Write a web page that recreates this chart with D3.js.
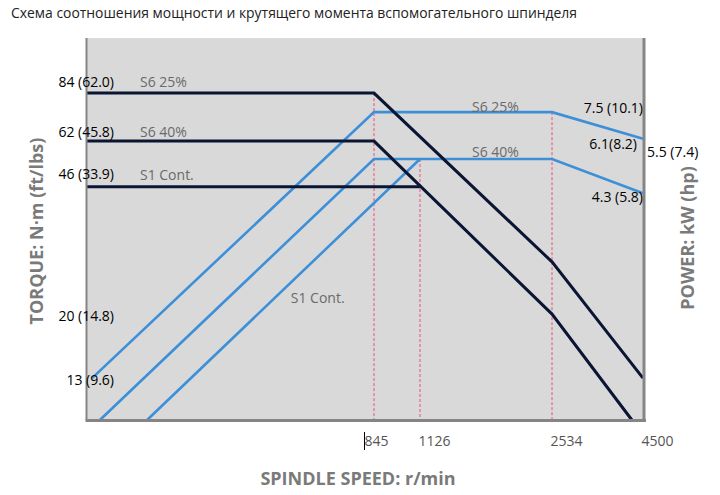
<!DOCTYPE html>
<html>
<head>
<meta charset="utf-8">
<script src="https://cdn.jsdelivr.net/npm/d3@7/dist/d3.min.js"></script>
<style>
  body { margin: 0; background: #fff; }
  svg { display: block; }
  .lbl { font-family: "Open Sans", "Noto Sans", sans-serif; }
</style>
</head>
<body>
<div id="chart"></div>
<script>
// Spindle speed breakpoints (r/min) — the axis is schematic, not linear
var speedTicks = [845, 1126, 2534, 4500];

// Schematic height levels (0 = bottom of plot, 100 = top)
// Torque curves: [speed, level]
var torqueS625 = [[0, 85.8], [845, 85.8], [2534, 41.5], [4500, 11.0]];
var torqueS640 = [[0, 73.2], [845, 73.2], [2534, 27.8], [4260, 0]];
var torqueS1   = [[0, 61.2], [1126, 61.2]];

// Power curves: [speed, level]
var powerS625 = [[15, 11.0], [845, 80.8], [2534, 80.8], [4500, 73.8]];
var powerS640 = [[38, 0], [845, 68.5], [2534, 68.5], [4500, 59.5]];
var powerS1   = [[177, 0], [1126, 68.5]];

// Red guide lines: [speed, top level]
var guides = [[845, 85.8], [1126, 68.5], [2534, 80.8]];

// Torque labels N·m (ft/lbs), left side
var torqueLabels = ["84 (62.0)", "62 (45.8)", "46 (33.9)", "20 (14.8)", "13 (9.6)"];
var torqueLabelLevels = [88.7, 75.6, 64.6, 27.3, 10.5];

// Power labels kW (hp), right side
var powerLabels = ["7.5 (10.1)", "6.1(8.2)", "5.5 (7.4)", "4.3 (5.8)"];
var powerLabelLevels = [81.9, 72.4, 70.3, 58.5];
var powerLabelInside = [true, true, false, true];

// Curve names inside the plot
var seriesNames = ["S6 25%", "S6 40%", "S1 Cont.", "S6 25%", "S6 40%", "S1 Cont."];
var seriesSpeeds = [156, 156, 156, 1681, 1681, 600];
var seriesLevels = [88.7, 75.6, 64.3, 82.2, 70.3, 32.0];

var W = 720, H = 495;
var plot = {left: 87, right: 643, top: 38, bottom: 420};

var x = d3.scaleLinear()
  .domain([0].concat(speedTicks))
  .range([plot.left, 374, 420, 552, plot.right]);

var y = d3.scaleLinear()
  .domain([0, 100])
  .range([plot.bottom, plot.bottom - 381]);

var svg = d3.select("#chart").append("svg")
  .attr("width", W)
  .attr("height", H);

// Title
svg.append("text")
  .attr("class", "lbl")
  .attr("x", 11)
  .attr("y", 18)
  .attr("font-size", 14)
  .attr("fill", "#222")
  .attr("textLength", 566)
  .attr("lengthAdjust", "spacingAndGlyphs")
  .text("Схема соотношения мощности и крутящего момента вспомогательного шпинделя");

// Plot background
svg.append("rect")
  .attr("x", plot.left)
  .attr("y", plot.top)
  .attr("width", plot.right - plot.left)
  .attr("height", plot.bottom - plot.top)
  .attr("fill", "#d9d9d9");

// Red dashed guides
svg.selectAll(".guide")
  .data(guides)
  .enter().append("line")
  .attr("class", "guide")
  .attr("x1", function(d) { return x(d[0]); })
  .attr("x2", function(d) { return x(d[0]); })
  .attr("y1", function(d) { return y(d[1]); })
  .attr("y2", plot.bottom)
  .attr("stroke", "#ee4d78")
  .attr("stroke-width", 1)
  .attr("stroke-dasharray", "3,2");

var line = d3.line()
  .x(function(d) { return x(d[0]); })
  .y(function(d) { return y(d[1]); });

// Power curves (blue)
svg.selectAll(".power")
  .data([powerS625, powerS640, powerS1])
  .enter().append("path")
  .attr("class", "power")
  .attr("d", line)
  .attr("fill", "none")
  .attr("stroke", "#3d90d8")
  .attr("stroke-width", 2.6);

// Torque curves (navy)
svg.selectAll(".torque")
  .data([torqueS625, torqueS640, torqueS1])
  .enter().append("path")
  .attr("class", "torque")
  .attr("d", line)
  .attr("fill", "none")
  .attr("stroke", "#0a1533")
  .attr("stroke-width", 3);

// Plot frame: left, bottom, right
svg.append("line")
  .attr("x1", plot.left - 0.5).attr("x2", plot.left - 0.5)
  .attr("y1", plot.top).attr("y2", plot.bottom)
  .attr("stroke", "#858585").attr("stroke-width", 2);
svg.append("line")
  .attr("x1", plot.left - 1.5).attr("x2", plot.right + 3)
  .attr("y1", plot.bottom + 0.5).attr("y2", plot.bottom + 0.5)
  .attr("stroke", "#858585").attr("stroke-width", 3);
svg.append("line")
  .attr("x1", plot.right + 1).attr("x2", plot.right + 1)
  .attr("y1", plot.top).attr("y2", plot.bottom + 2)
  .attr("stroke", "#858585").attr("stroke-width", 3);

// X axis tick labels
var xAxis = svg.append("g")
  .attr("transform", "translate(0," + (plot.bottom + 2) + ")")
  .call(d3.axisBottom(x).tickValues(speedTicks).tickFormat(d3.format("d"))
    .tickSize(0).tickPadding(14));
xAxis.select(".domain").remove();
xAxis.selectAll("text")
  .attr("class", "lbl")
  .attr("font-size", 14)
  .attr("fill", "#555")
  .attr("text-anchor", function(d) { return d === 845 ? "middle" : "start"; })
  .attr("dx", function(d) { return d === 845 ? 2 : -2; });

// little black mark left of 845
svg.append("line")
  .attr("x1", 364.5).attr("x2", 364.5)
  .attr("y1", 432).attr("y2", 450)
  .attr("stroke", "#000").attr("stroke-width", 1);

// Left torque labels
svg.selectAll(".tlab")
  .data(torqueLabels)
  .enter().append("text")
  .attr("class", "lbl tlab")
  .attr("x", 114)
  .attr("y", function(d, i) { return y(torqueLabelLevels[i]); })
  .attr("dy", "0.35em")
  .attr("text-anchor", "end")
  .attr("font-size", 14)
  .attr("fill", "#000")
  .text(function(d) { return d; });

// Right power labels
svg.selectAll(".plab")
  .data(powerLabels)
  .enter().append("text")
  .attr("class", "lbl plab")
  .attr("x", function(d, i) { return powerLabelInside[i] ? (i === 1 ? plot.right - 6 : plot.right) : plot.right + 4; })
  .attr("y", function(d, i) { return y(powerLabelLevels[i]); })
  .attr("dy", "0.35em")
  .attr("text-anchor", function(d, i) { return powerLabelInside[i] ? "end" : "start"; })
  .attr("font-size", 14)
  .attr("fill", "#000")
  .text(function(d) { return d; });

// Series names
svg.selectAll(".sname")
  .data(seriesNames)
  .enter().append("text")
  .attr("class", "lbl sname")
  .attr("x", function(d, i) { return x(seriesSpeeds[i]); })
  .attr("y", function(d, i) { return y(seriesLevels[i]); })
  .attr("dy", "0.35em")
  .attr("font-size", 14)
  .attr("fill", "#6a6a6a")
  .text(function(d) { return d; });

// Axis titles
svg.append("text")
  .attr("class", "lbl")
  .attr("x", 358)
  .attr("y", 485)
  .attr("text-anchor", "middle")
  .attr("font-size", 18)
  .attr("font-weight", "bold")
  .attr("fill", "#7a7a7a")
  .text("SPINDLE SPEED: r/min");

svg.append("text")
  .attr("class", "lbl")
  .attr("transform", "translate(43,231) rotate(-90)")
  .attr("text-anchor", "middle")
  .attr("font-size", 18)
  .attr("font-weight", "bold")
  .attr("fill", "#7a7a7a")
  .text("TORQUE: N·m (ft/lbs)");

svg.append("text")
  .attr("class", "lbl")
  .attr("transform", "translate(694,238) rotate(-90)")
  .attr("text-anchor", "middle")
  .attr("font-size", 18)
  .attr("font-weight", "bold")
  .attr("fill", "#7a7a7a")
  .text("POWER: kW (hp)");
</script>
</body>
</html>
